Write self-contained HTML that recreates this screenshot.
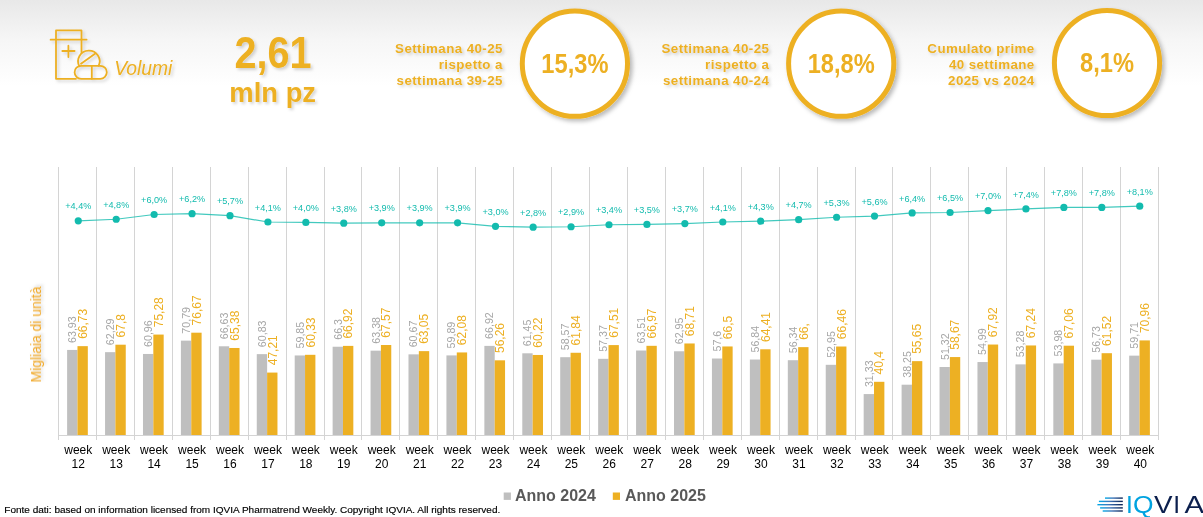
<!DOCTYPE html>
<html lang="it">
<head>
<meta charset="utf-8">
<title>Volumi</title>
<style>
html,body{margin:0;padding:0;}
body{width:1203px;height:517px;overflow:hidden;background:#fff;font-family:"Liberation Sans",sans-serif;}
#bg{position:absolute;left:0;top:0;width:1203px;height:517px;background:linear-gradient(to bottom,#E8E8E8 0px,#F6F6F6 40px,#FFFFFF 86px);}
svg{position:absolute;left:0;top:0;}
text{font-family:"Liberation Sans",sans-serif;}
.kl{font-size:13.33px;letter-spacing:0.42px;font-weight:bold;fill:#EDB023;text-anchor:end;}
.kv{font-size:28px;font-weight:bold;fill:#EDB023;text-anchor:middle;}
.ax{font-size:12px;fill:#000;text-anchor:middle;}
.g{font-size:10.67px;fill:#A6A6A6;}
.y{font-size:12px;fill:#EDB023;}
.p{font-size:9.15px;fill:#13BBAE;text-anchor:middle;}
.lg{font-size:16px;font-weight:bold;fill:#595959;}
</style>
</head>
<body>
<div id="bg"></div>
<svg width="1203" height="517" viewBox="0 0 1203 517">
<defs>
<filter id="sh" x="-20%" y="-20%" width="150%" height="150%"><feDropShadow dx="2.6" dy="2.6" stdDeviation="1.9" flood-color="#000" flood-opacity="0.27"/></filter>
<filter id="ts" x="-10%" y="-30%" width="130%" height="180%"><feDropShadow dx="2" dy="2" stdDeviation="1.8" flood-color="#000" flood-opacity="0.17"/></filter>
<linearGradient id="lg1" x1="0" x2="1" y1="0" y2="0"><stop offset="0" stop-color="#00A9E8"/><stop offset="0.45" stop-color="#3E74B8"/><stop offset="1" stop-color="#0A2050"/></linearGradient>
</defs>

<g id="icon" fill="none" stroke="#EDB023" stroke-width="1.8" stroke-linecap="round" stroke-linejoin="round" filter="url(#ts)">
<path d="M81.5 52.3V30.4H56V78.8H76"/>
<path d="M50.6 39.7H86.6"/>
<path d="M62.3 51H74.6M68.4 45.7V57"/>
<path d="M79.4 66.3A10.8 10.6 0 1 1 98.6 65.8"/>
<path d="M81 63.8L95 53.7"/>
<rect x="74.6" y="65.8" width="32.2" height="13" rx="6.5"/>
<path d="M91.8 65.8V78.8"/>
</g>
<text x="114.2" y="74.5" font-size="19.3" font-style="italic" fill="#EDB023" filter="url(#ts)">Volumi</text>
<g filter="url(#ts)" fill="#EDB023" font-weight="bold" text-anchor="middle">
<text transform="translate(273.0 67.7) scale(0.88 1)" font-size="45">2,61</text>
<text x="272.7" y="102.0" font-size="27.4">mln pz</text>
</g>
<g filter="url(#ts)">
<text class="kl" x="502.9" y="52.8">Settimana 40-25</text>
<text class="kl" x="502.9" y="68.8">rispetto a</text>
<text class="kl" x="502.9" y="84.8">settimana 39-25</text>
</g>
<circle cx="574.9" cy="63.7" r="52.6" fill="#fff" stroke="#EDB023" stroke-width="5" filter="url(#sh)"/>
<text class="kv" transform="translate(574.9 73.3) scale(0.845 1)" x="0" y="0">15,3%</text>
<g filter="url(#ts)">
<text class="kl" x="769.3" y="52.8">Settimana 40-25</text>
<text class="kl" x="769.3" y="68.8">rispetto a</text>
<text class="kl" x="769.3" y="84.8">settimana 40-24</text>
</g>
<circle cx="841.2" cy="63.7" r="52.6" fill="#fff" stroke="#EDB023" stroke-width="5" filter="url(#sh)"/>
<text class="kv" transform="translate(841.2 73) scale(0.845 1)" x="0" y="0">18,8%</text>
<g filter="url(#ts)">
<text class="kl" x="1034.7" y="52.8">Cumulato prime</text>
<text class="kl" x="1034.7" y="68.8">40 settimane</text>
<text class="kl" x="1034.7" y="84.8">2025 vs 2024</text>
</g>
<circle cx="1107" cy="63" r="52.6" fill="#fff" stroke="#EDB023" stroke-width="5" filter="url(#sh)"/>
<text class="kv" transform="translate(1107 72.3) scale(0.845 1)" x="0" y="0">8,1%</text>
<g stroke="#D4D4D4" stroke-width="1" shape-rendering="crispEdges">
<line x1="58.5" y1="167" x2="58.5" y2="440"/>
<line x1="96.5" y1="167" x2="96.5" y2="440"/>
<line x1="134.5" y1="167" x2="134.5" y2="440"/>
<line x1="172.5" y1="167" x2="172.5" y2="440"/>
<line x1="210.5" y1="167" x2="210.5" y2="440"/>
<line x1="248.5" y1="167" x2="248.5" y2="440"/>
<line x1="286.5" y1="167" x2="286.5" y2="440"/>
<line x1="324.5" y1="167" x2="324.5" y2="440"/>
<line x1="361.5" y1="167" x2="361.5" y2="440"/>
<line x1="399.5" y1="167" x2="399.5" y2="440"/>
<line x1="437.5" y1="167" x2="437.5" y2="440"/>
<line x1="475.5" y1="167" x2="475.5" y2="440"/>
<line x1="513.5" y1="167" x2="513.5" y2="440"/>
<line x1="551.5" y1="167" x2="551.5" y2="440"/>
<line x1="589.5" y1="167" x2="589.5" y2="440"/>
<line x1="627.5" y1="167" x2="627.5" y2="440"/>
<line x1="665.5" y1="167" x2="665.5" y2="440"/>
<line x1="703.5" y1="167" x2="703.5" y2="440"/>
<line x1="741.5" y1="167" x2="741.5" y2="440"/>
<line x1="779.5" y1="167" x2="779.5" y2="440"/>
<line x1="817.5" y1="167" x2="817.5" y2="440"/>
<line x1="855.5" y1="167" x2="855.5" y2="440"/>
<line x1="892.5" y1="167" x2="892.5" y2="440"/>
<line x1="930.5" y1="167" x2="930.5" y2="440"/>
<line x1="968.5" y1="167" x2="968.5" y2="440"/>
<line x1="1006.5" y1="167" x2="1006.5" y2="440"/>
<line x1="1044.5" y1="167" x2="1044.5" y2="440"/>
<line x1="1082.5" y1="167" x2="1082.5" y2="440"/>
<line x1="1120.5" y1="167" x2="1120.5" y2="440"/>
<line x1="1158.5" y1="167" x2="1158.5" y2="440"/>
<line x1="58" y1="435.5" x2="1159" y2="435.5"/>
</g>
<g shape-rendering="auto">
<rect x="67.12" y="349.94" width="10.35" height="85.06" fill="#BFBFBF"/>
<rect x="77.47" y="346.15" width="10.35" height="88.85" fill="#EDB023"/>
<rect x="105.05" y="352.16" width="10.35" height="82.84" fill="#BFBFBF"/>
<rect x="115.4" y="344.7" width="10.35" height="90.3" fill="#EDB023"/>
<rect x="142.98" y="353.96" width="10.35" height="81.04" fill="#BFBFBF"/>
<rect x="153.33" y="334.57" width="10.35" height="100.43" fill="#EDB023"/>
<rect x="180.91" y="340.65" width="10.35" height="94.35" fill="#BFBFBF"/>
<rect x="191.26" y="332.69" width="10.35" height="102.31" fill="#EDB023"/>
<rect x="218.84" y="346.28" width="10.35" height="88.72" fill="#BFBFBF"/>
<rect x="229.19" y="347.98" width="10.35" height="87.02" fill="#EDB023"/>
<rect x="256.77" y="354.14" width="10.35" height="80.86" fill="#BFBFBF"/>
<rect x="267.12" y="372.58" width="10.35" height="62.42" fill="#EDB023"/>
<rect x="294.7" y="355.46" width="10.35" height="79.54" fill="#BFBFBF"/>
<rect x="305.05" y="354.81" width="10.35" height="80.19" fill="#EDB023"/>
<rect x="332.63" y="346.73" width="10.35" height="88.27" fill="#BFBFBF"/>
<rect x="342.98" y="345.89" width="10.35" height="89.11" fill="#EDB023"/>
<rect x="370.56" y="350.68" width="10.35" height="84.32" fill="#BFBFBF"/>
<rect x="380.91" y="345.01" width="10.35" height="89.99" fill="#EDB023"/>
<rect x="408.49" y="354.35" width="10.35" height="80.65" fill="#BFBFBF"/>
<rect x="418.84" y="351.13" width="10.35" height="83.87" fill="#EDB023"/>
<rect x="446.43" y="355.41" width="10.35" height="79.59" fill="#BFBFBF"/>
<rect x="456.78" y="352.44" width="10.35" height="82.56" fill="#EDB023"/>
<rect x="484.36" y="345.89" width="10.35" height="89.11" fill="#BFBFBF"/>
<rect x="494.71" y="360.32" width="10.35" height="74.68" fill="#EDB023"/>
<rect x="522.29" y="353.3" width="10.35" height="81.7" fill="#BFBFBF"/>
<rect x="532.64" y="354.96" width="10.35" height="80.04" fill="#EDB023"/>
<rect x="560.22" y="357.2" width="10.35" height="77.8" fill="#BFBFBF"/>
<rect x="570.57" y="352.77" width="10.35" height="82.23" fill="#EDB023"/>
<rect x="598.15" y="358.82" width="10.35" height="76.18" fill="#BFBFBF"/>
<rect x="608.5" y="345.09" width="10.35" height="89.91" fill="#EDB023"/>
<rect x="636.08" y="350.51" width="10.35" height="84.49" fill="#BFBFBF"/>
<rect x="646.43" y="345.82" width="10.35" height="89.18" fill="#EDB023"/>
<rect x="674.01" y="351.27" width="10.35" height="83.73" fill="#BFBFBF"/>
<rect x="684.36" y="343.47" width="10.35" height="91.53" fill="#EDB023"/>
<rect x="711.94" y="358.51" width="10.35" height="76.49" fill="#BFBFBF"/>
<rect x="722.29" y="346.46" width="10.35" height="88.54" fill="#EDB023"/>
<rect x="749.87" y="359.54" width="10.35" height="75.46" fill="#BFBFBF"/>
<rect x="760.22" y="349.29" width="10.35" height="85.71" fill="#EDB023"/>
<rect x="787.81" y="360.22" width="10.35" height="74.78" fill="#BFBFBF"/>
<rect x="798.16" y="347.14" width="10.35" height="87.86" fill="#EDB023"/>
<rect x="825.74" y="364.81" width="10.35" height="70.19" fill="#BFBFBF"/>
<rect x="836.09" y="346.51" width="10.35" height="88.49" fill="#EDB023"/>
<rect x="863.67" y="394.08" width="10.35" height="40.92" fill="#BFBFBF"/>
<rect x="874.02" y="381.8" width="10.35" height="53.2" fill="#EDB023"/>
<rect x="901.6" y="384.71" width="10.35" height="50.29" fill="#BFBFBF"/>
<rect x="911.95" y="361.15" width="10.35" height="73.85" fill="#EDB023"/>
<rect x="939.53" y="367.01" width="10.35" height="67.99" fill="#BFBFBF"/>
<rect x="949.88" y="357.06" width="10.35" height="77.94" fill="#EDB023"/>
<rect x="977.46" y="362.04" width="10.35" height="72.96" fill="#BFBFBF"/>
<rect x="987.81" y="344.54" width="10.35" height="90.46" fill="#EDB023"/>
<rect x="1015.39" y="364.36" width="10.35" height="70.64" fill="#BFBFBF"/>
<rect x="1025.74" y="345.46" width="10.35" height="89.54" fill="#EDB023"/>
<rect x="1053.32" y="363.41" width="10.35" height="71.59" fill="#BFBFBF"/>
<rect x="1063.67" y="345.7" width="10.35" height="89.3" fill="#EDB023"/>
<rect x="1091.25" y="359.69" width="10.35" height="75.31" fill="#BFBFBF"/>
<rect x="1101.6" y="353.2" width="10.35" height="81.8" fill="#EDB023"/>
<rect x="1129.18" y="355.65" width="10.35" height="79.35" fill="#BFBFBF"/>
<rect x="1139.53" y="340.42" width="10.35" height="94.58" fill="#EDB023"/>
</g>
<g>
<text class="g" transform="translate(76.09 342.94) rotate(-90)">63,93</text>
<text class="y" transform="translate(86.94 338.85) rotate(-90)">66,73</text>
<text class="g" transform="translate(114.02 345.16) rotate(-90)">62,29</text>
<text class="y" transform="translate(124.87 337.4) rotate(-90)">67,8</text>
<text class="g" transform="translate(151.95 346.96) rotate(-90)">60,96</text>
<text class="y" transform="translate(162.8 327.27) rotate(-90)">75,28</text>
<text class="g" transform="translate(189.88 333.65) rotate(-90)">70,79</text>
<text class="y" transform="translate(200.73 325.39) rotate(-90)">76,67</text>
<text class="g" transform="translate(227.81 339.28) rotate(-90)">66,63</text>
<text class="y" transform="translate(238.66 340.68) rotate(-90)">65,38</text>
<text class="g" transform="translate(265.75 347.14) rotate(-90)">60,83</text>
<text class="y" transform="translate(276.6 365.28) rotate(-90)">47,21</text>
<text class="g" transform="translate(303.68 348.46) rotate(-90)">59,85</text>
<text class="y" transform="translate(314.53 347.51) rotate(-90)">60,33</text>
<text class="g" transform="translate(341.61 339.73) rotate(-90)">66,3</text>
<text class="y" transform="translate(352.46 338.59) rotate(-90)">66,92</text>
<text class="g" transform="translate(379.54 343.68) rotate(-90)">63,38</text>
<text class="y" transform="translate(390.39 337.71) rotate(-90)">67,57</text>
<text class="g" transform="translate(417.47 347.35) rotate(-90)">60,67</text>
<text class="y" transform="translate(428.32 343.83) rotate(-90)">63,05</text>
<text class="g" transform="translate(455.4 348.41) rotate(-90)">59,89</text>
<text class="y" transform="translate(466.25 345.14) rotate(-90)">62,08</text>
<text class="g" transform="translate(493.33 338.89) rotate(-90)">66,92</text>
<text class="y" transform="translate(504.18 353.02) rotate(-90)">56,26</text>
<text class="g" transform="translate(531.26 346.3) rotate(-90)">61,45</text>
<text class="y" transform="translate(542.11 347.66) rotate(-90)">60,22</text>
<text class="g" transform="translate(569.19 350.2) rotate(-90)">58,57</text>
<text class="y" transform="translate(580.04 345.47) rotate(-90)">61,84</text>
<text class="g" transform="translate(607.12 351.82) rotate(-90)">57,37</text>
<text class="y" transform="translate(617.97 337.79) rotate(-90)">67,51</text>
<text class="g" transform="translate(645.06 343.51) rotate(-90)">63,51</text>
<text class="y" transform="translate(655.91 338.52) rotate(-90)">66,97</text>
<text class="g" transform="translate(682.99 344.27) rotate(-90)">62,95</text>
<text class="y" transform="translate(693.84 336.17) rotate(-90)">68,71</text>
<text class="g" transform="translate(720.92 351.51) rotate(-90)">57,6</text>
<text class="y" transform="translate(731.77 339.16) rotate(-90)">66,5</text>
<text class="g" transform="translate(758.85 352.54) rotate(-90)">56,84</text>
<text class="y" transform="translate(769.7 341.99) rotate(-90)">64,41</text>
<text class="g" transform="translate(796.78 353.22) rotate(-90)">56,34</text>
<text class="y" transform="translate(807.63 339.84) rotate(-90)">66,</text>
<text class="g" transform="translate(834.71 357.81) rotate(-90)">52,95</text>
<text class="y" transform="translate(845.56 339.21) rotate(-90)">66,46</text>
<text class="g" transform="translate(872.64 387.08) rotate(-90)">31,33</text>
<text class="y" transform="translate(883.49 374.5) rotate(-90)">40,4</text>
<text class="g" transform="translate(910.57 377.71) rotate(-90)">38,25</text>
<text class="y" transform="translate(921.42 353.85) rotate(-90)">55,65</text>
<text class="g" transform="translate(948.5 360.01) rotate(-90)">51,32</text>
<text class="y" transform="translate(959.35 349.76) rotate(-90)">58,67</text>
<text class="g" transform="translate(986.44 355.04) rotate(-90)">54,99</text>
<text class="y" transform="translate(997.29 337.24) rotate(-90)">67,92</text>
<text class="g" transform="translate(1024.37 357.36) rotate(-90)">53,28</text>
<text class="y" transform="translate(1035.22 338.16) rotate(-90)">67,24</text>
<text class="g" transform="translate(1062.3 356.41) rotate(-90)">53,98</text>
<text class="y" transform="translate(1073.15 338.4) rotate(-90)">67,06</text>
<text class="g" transform="translate(1100.23 352.69) rotate(-90)">56,73</text>
<text class="y" transform="translate(1111.08 345.9) rotate(-90)">61,52</text>
<text class="g" transform="translate(1138.16 348.65) rotate(-90)">59,71</text>
<text class="y" transform="translate(1149.01 333.12) rotate(-90)">70,96</text>
</g>
<polyline fill="none" stroke="#13BBAE" stroke-width="1.2" stroke-opacity="0.8" points="78.27,220.82 116.2,219.24 154.13,214.5 192.06,213.71 229.99,215.69 267.92,222 305.85,222.4 343.78,223.19 381.71,222.79 419.64,222.79 457.58,222.79 495.51,226.35 533.14,227.14 571.07,226.74 609,224.77 646.93,224.38 684.86,223.58 722.79,222 760.72,221.21 798.66,219.63 836.59,217.26 874.52,216.08 912.15,212.92 950.08,212.52 988.01,210.55 1025.94,208.97 1063.87,207.39 1101.8,207.39 1139.73,206.2"/>
<g fill="#13BBAE">
<circle cx="78.27" cy="220.82" r="3.6"/>
<circle cx="116.2" cy="219.24" r="3.6"/>
<circle cx="154.13" cy="214.5" r="3.6"/>
<circle cx="192.06" cy="213.71" r="3.6"/>
<circle cx="229.99" cy="215.69" r="3.6"/>
<circle cx="267.92" cy="222" r="3.6"/>
<circle cx="305.85" cy="222.4" r="3.6"/>
<circle cx="343.78" cy="223.19" r="3.6"/>
<circle cx="381.71" cy="222.79" r="3.6"/>
<circle cx="419.64" cy="222.79" r="3.6"/>
<circle cx="457.58" cy="222.79" r="3.6"/>
<circle cx="495.51" cy="226.35" r="3.6"/>
<circle cx="533.14" cy="227.14" r="3.6"/>
<circle cx="571.07" cy="226.74" r="3.6"/>
<circle cx="609" cy="224.77" r="3.6"/>
<circle cx="646.93" cy="224.38" r="3.6"/>
<circle cx="684.86" cy="223.58" r="3.6"/>
<circle cx="722.79" cy="222" r="3.6"/>
<circle cx="760.72" cy="221.21" r="3.6"/>
<circle cx="798.66" cy="219.63" r="3.6"/>
<circle cx="836.59" cy="217.26" r="3.6"/>
<circle cx="874.52" cy="216.08" r="3.6"/>
<circle cx="912.15" cy="212.92" r="3.6"/>
<circle cx="950.08" cy="212.52" r="3.6"/>
<circle cx="988.01" cy="210.55" r="3.6"/>
<circle cx="1025.94" cy="208.97" r="3.6"/>
<circle cx="1063.87" cy="207.39" r="3.6"/>
<circle cx="1101.8" cy="207.39" r="3.6"/>
<circle cx="1139.73" cy="206.2" r="3.6"/>
</g>
<g>
<text class="p" x="78.27" y="209.42">+4,4%</text>
<text class="p" x="116.2" y="207.84">+4,8%</text>
<text class="p" x="154.13" y="203.1">+6,0%</text>
<text class="p" x="192.06" y="202.31">+6,2%</text>
<text class="p" x="229.99" y="204.28">+5,7%</text>
<text class="p" x="267.92" y="210.6">+4,1%</text>
<text class="p" x="305.85" y="211">+4,0%</text>
<text class="p" x="343.78" y="211.79">+3,8%</text>
<text class="p" x="381.71" y="211.39">+3,9%</text>
<text class="p" x="419.64" y="211.39">+3,9%</text>
<text class="p" x="457.58" y="211.39">+3,9%</text>
<text class="p" x="495.51" y="214.95">+3,0%</text>
<text class="p" x="533.14" y="215.74">+2,8%</text>
<text class="p" x="571.07" y="215.34">+2,9%</text>
<text class="p" x="609" y="213.37">+3,4%</text>
<text class="p" x="646.93" y="212.97">+3,5%</text>
<text class="p" x="684.86" y="212.18">+3,7%</text>
<text class="p" x="722.79" y="210.6">+4,1%</text>
<text class="p" x="760.72" y="209.81">+4,3%</text>
<text class="p" x="798.66" y="208.23">+4,7%</text>
<text class="p" x="836.59" y="205.86">+5,3%</text>
<text class="p" x="874.52" y="204.68">+5,6%</text>
<text class="p" x="912.15" y="201.52">+6,4%</text>
<text class="p" x="950.08" y="201.12">+6,5%</text>
<text class="p" x="988.01" y="199.15">+7,0%</text>
<text class="p" x="1025.94" y="197.57">+7,4%</text>
<text class="p" x="1063.87" y="195.99">+7,8%</text>
<text class="p" x="1101.8" y="195.99">+7,8%</text>
<text class="p" x="1139.73" y="194.8">+8,1%</text>
</g>
<g>
<text class="ax" x="78.27" y="453.6">week</text><text class="ax" x="78.27" y="467.6">12</text>
<text class="ax" x="116.2" y="453.6">week</text><text class="ax" x="116.2" y="467.6">13</text>
<text class="ax" x="154.13" y="453.6">week</text><text class="ax" x="154.13" y="467.6">14</text>
<text class="ax" x="192.06" y="453.6">week</text><text class="ax" x="192.06" y="467.6">15</text>
<text class="ax" x="229.99" y="453.6">week</text><text class="ax" x="229.99" y="467.6">16</text>
<text class="ax" x="267.92" y="453.6">week</text><text class="ax" x="267.92" y="467.6">17</text>
<text class="ax" x="305.85" y="453.6">week</text><text class="ax" x="305.85" y="467.6">18</text>
<text class="ax" x="343.78" y="453.6">week</text><text class="ax" x="343.78" y="467.6">19</text>
<text class="ax" x="381.71" y="453.6">week</text><text class="ax" x="381.71" y="467.6">20</text>
<text class="ax" x="419.64" y="453.6">week</text><text class="ax" x="419.64" y="467.6">21</text>
<text class="ax" x="457.58" y="453.6">week</text><text class="ax" x="457.58" y="467.6">22</text>
<text class="ax" x="495.51" y="453.6">week</text><text class="ax" x="495.51" y="467.6">23</text>
<text class="ax" x="533.44" y="453.6">week</text><text class="ax" x="533.44" y="467.6">24</text>
<text class="ax" x="571.37" y="453.6">week</text><text class="ax" x="571.37" y="467.6">25</text>
<text class="ax" x="609.3" y="453.6">week</text><text class="ax" x="609.3" y="467.6">26</text>
<text class="ax" x="647.23" y="453.6">week</text><text class="ax" x="647.23" y="467.6">27</text>
<text class="ax" x="685.16" y="453.6">week</text><text class="ax" x="685.16" y="467.6">28</text>
<text class="ax" x="723.09" y="453.6">week</text><text class="ax" x="723.09" y="467.6">29</text>
<text class="ax" x="761.02" y="453.6">week</text><text class="ax" x="761.02" y="467.6">30</text>
<text class="ax" x="798.96" y="453.6">week</text><text class="ax" x="798.96" y="467.6">31</text>
<text class="ax" x="836.89" y="453.6">week</text><text class="ax" x="836.89" y="467.6">32</text>
<text class="ax" x="874.82" y="453.6">week</text><text class="ax" x="874.82" y="467.6">33</text>
<text class="ax" x="912.75" y="453.6">week</text><text class="ax" x="912.75" y="467.6">34</text>
<text class="ax" x="950.68" y="453.6">week</text><text class="ax" x="950.68" y="467.6">35</text>
<text class="ax" x="988.61" y="453.6">week</text><text class="ax" x="988.61" y="467.6">36</text>
<text class="ax" x="1026.54" y="453.6">week</text><text class="ax" x="1026.54" y="467.6">37</text>
<text class="ax" x="1064.47" y="453.6">week</text><text class="ax" x="1064.47" y="467.6">38</text>
<text class="ax" x="1102.4" y="453.6">week</text><text class="ax" x="1102.4" y="467.6">39</text>
<text class="ax" x="1140.33" y="453.6">week</text><text class="ax" x="1140.33" y="467.6">40</text>
</g>
<text transform="translate(41 382.5) rotate(-90)" font-size="14" fill="#F0A92A" filter="url(#ts)" textLength="96" lengthAdjust="spacing">Migliaia di unità</text>
<rect x="503.7" y="492.5" width="7.2" height="7.4" fill="#BFBFBF"/>
<text class="lg" x="515" y="500.9">Anno 2024</text>
<rect x="612.8" y="492.5" width="7.2" height="7.4" fill="#EDB023"/>
<text class="lg" x="625" y="500.9">Anno 2025</text>
<text transform="translate(4.3 512.8) scale(1.074 1)" font-size="9.33" fill="#000" stroke="#000" stroke-width="0.15">Fonte dati: based on information licensed from IQVIA Pharmatrend Weekly. Copyright IQVIA. All rights reserved.</text>
<g id="logo">
<rect x="1105" y="497.4" width="17.8" height="1.4" fill="url(#lg1)"/>
<rect x="1098.9" y="500.7" width="23.9" height="1.4" fill="url(#lg1)"/>
<rect x="1097.4" y="504" width="25.4" height="1.4" fill="url(#lg1)"/>
<rect x="1100.1" y="507.2" width="22.7" height="1.4" fill="url(#lg1)"/>
<rect x="1102.7" y="510.3" width="20.1" height="1.4" fill="url(#lg1)"/>
<text transform="translate(1125.9 512.5) scale(1.05 1)" font-size="23.4" fill="#00A3E0">I</text>
<text transform="translate(1133.1 512.5) scale(1.13 1)" font-size="23.4" fill="#00A3E0">Q</text>
<text transform="translate(1154 512.5) scale(1.19 1)" font-size="23.4" fill="#0B1F4D">V</text>
<text transform="translate(1173.3 512.5) scale(1.05 1)" font-size="23.4" fill="#0B1F4D">I</text>
<text transform="translate(1184.5 512.5) scale(1.25 1)" font-size="23.4" fill="#0B1F4D">A</text>
</g>
</svg>
</body>
</html>
